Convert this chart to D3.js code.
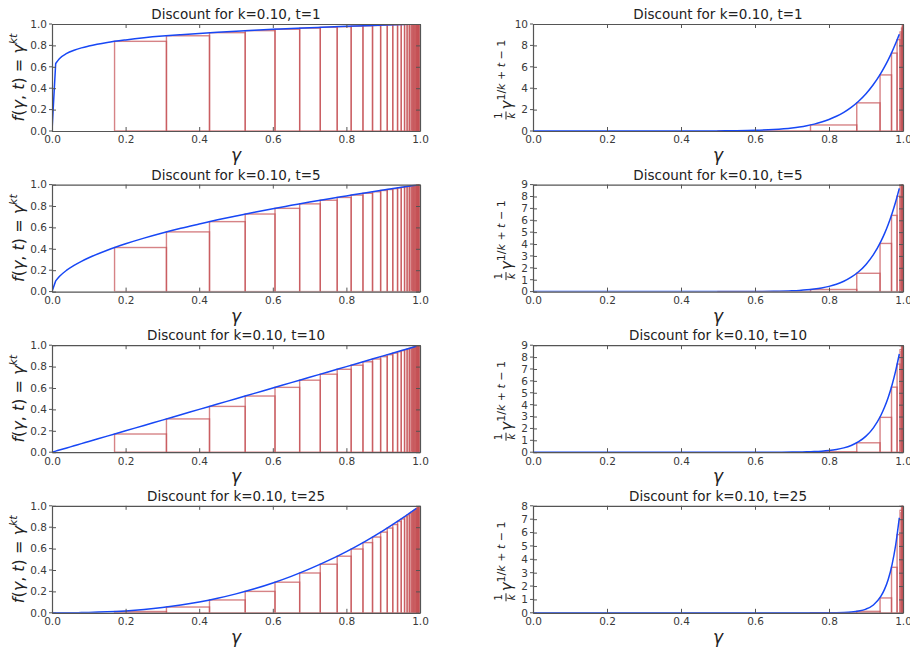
<!DOCTYPE html>
<html>
<head>
<meta charset="utf-8">
<script src="https://cdn.jsdelivr.net/npm/d3@7"></script>
<style>
  body { margin: 0; background: #fff; }
  svg text { font-family: "DejaVu Sans", sans-serif; }
</style>
</head>
<body>
<svg id="chart" width="910" height="647"></svg>
<script>
// horizon values t for each row, k is fixed
const kValue = 0.10;
const tValues = [1, 5, 10, 25];

// left column: left edges of the rectangles
const leftEdges = [0, 0.17, 0.311, 0.428, 0.525, 0.606, 0.673, 0.729, 0.775, 0.813, 0.845, 0.871,
  0.893, 0.911, 0.926, 0.939, 0.949, 0.958, 0.965, 0.971, 0.976, 0.980, 0.983, 0.986, 0.989,
  0.991, 0.992, 0.994, 0.995, 0.996, 0.997, 0.998];
const leftHeightsT1 = [0, 0.838, 0.890, 0.919, 0.938, 0.951, 0.961, 0.969, 0.975, 0.980, 0.983, 0.986,
  0.989, 0.991, 0.992, 0.994, 0.995, 0.996, 0.996, 0.997, 0.998, 0.998, 0.998, 0.999, 0.999,
  0.999, 0.999, 0.999, 1.0, 1.0, 1.0];
const leftHeightsT5 = [0, 0.412, 0.558, 0.654, 0.725, 0.778, 0.820, 0.854, 0.880, 0.902, 0.919, 0.933,
  0.945, 0.954, 0.962, 0.969, 0.974, 0.979, 0.982, 0.985, 0.988, 0.990, 0.991, 0.993, 0.994,
  0.995, 0.996, 0.997, 0.997, 0.998, 0.998];
const leftHeightsT10 = [0, 0.17, 0.311, 0.428, 0.525, 0.606, 0.673, 0.729, 0.775, 0.813, 0.845, 0.871,
  0.893, 0.911, 0.926, 0.939, 0.949, 0.958, 0.965, 0.971, 0.976, 0.980, 0.983, 0.986, 0.989,
  0.991, 0.992, 0.994, 0.995, 0.996, 0.997];
const leftHeightsT25 = [0, 0.012, 0.054, 0.120, 0.200, 0.286, 0.372, 0.454, 0.529, 0.596, 0.656, 0.708,
  0.754, 0.792, 0.825, 0.854, 0.877, 0.898, 0.915, 0.929, 0.941, 0.951, 0.958, 0.965, 0.973,
  0.978, 0.980, 0.985, 0.988, 0.990, 0.993];

// left column: the blue curve
const leftCurveX = [0, 0.01, 0.02, 0.04, 0.06, 0.08, 0.1, 0.15, 0.2, 0.25, 0.3, 0.35, 0.4, 0.45, 0.5,
  0.55, 0.6, 0.65, 0.7, 0.75, 0.8, 0.85, 0.9, 0.95, 0.99];
const leftCurveT1 = [0, 0.631, 0.676, 0.725, 0.755, 0.777, 0.794, 0.827, 0.851, 0.871, 0.887, 0.900,
  0.912, 0.923, 0.933, 0.942, 0.950, 0.958, 0.965, 0.972, 0.978, 0.984, 0.990, 0.995, 0.999];
const leftCurveT5 = [0, 0.1, 0.141, 0.2, 0.245, 0.283, 0.316, 0.387, 0.447, 0.5, 0.548, 0.592, 0.632,
  0.671, 0.707, 0.742, 0.775, 0.806, 0.837, 0.866, 0.894, 0.922, 0.949, 0.975, 0.995];
const leftCurveT10 = [0, 0.01, 0.02, 0.04, 0.06, 0.08, 0.1, 0.15, 0.2, 0.25, 0.3, 0.35, 0.4, 0.45, 0.5,
  0.55, 0.6, 0.65, 0.7, 0.75, 0.8, 0.85, 0.9, 0.95, 0.99];
const leftCurveT25 = [0, 0.00001, 0.00006, 0.0003, 0.0009, 0.0018, 0.0032, 0.0087, 0.0179, 0.0313,
  0.0493, 0.0725, 0.1012, 0.1358, 0.1768, 0.2243, 0.2789, 0.3406, 0.4100, 0.4871, 0.5724, 0.6661,
  0.7684, 0.8797, 0.9752];

// right column: rectangle edges and heights
const rightEdges = [0, 0.5, 0.75, 0.875, 0.938, 0.969, 0.984, 0.992, 0.996, 0.998, 0.999, 1.0];
const rightHeightsT1 = [0, 0.01, 0.563, 2.63, 5.24, 7.28, 8.54, 9.25, 9.62, 9.81, 9.90];
const rightHeightsT5 = [0, 0.001, 0.178, 1.54, 4.05, 6.41, 8.02, 8.96, 9.47, 9.73, 9.86];
const rightHeightsT10 = [0, 0, 0.042, 0.791, 2.93, 5.47, 7.41, 8.62, 9.28, 9.63, 9.81];
const rightHeightsT25 = [0, 0, 0.001, 0.107, 1.11, 3.40, 5.85, 7.66, 8.75, 9.36, 9.67];

// right column: the blue curve
const rightCurveX = [0, 0.3, 0.4, 0.5, 0.55, 0.6, 0.65, 0.7, 0.72, 0.74, 0.76, 0.78, 0.8, 0.82, 0.84,
  0.86, 0.88, 0.9, 0.92, 0.94, 0.95, 0.96, 0.97, 0.98, 0.99];
const rightCurveT1 = [0, 0.0001, 0.001, 0.0098, 0.0253, 0.0605, 0.1346, 0.2825, 0.374, 0.492, 0.643,
  0.834, 1.074, 1.374, 1.749, 2.213, 2.785, 3.487, 4.344, 5.386, 5.987, 6.648, 7.374, 8.171, 9.044];
const rightCurveT5 = [0, 0, 0, 0.0006, 0.0023, 0.0078, 0.024, 0.068, 0.101, 0.148, 0.215, 0.308,
  0.440, 0.622, 0.871, 1.211, 1.670, 2.288, 3.112, 4.205, 4.877, 5.647, 6.529, 7.536, 8.687];
const rightCurveT10 = [0, 0, 0, 0, 0.0001, 0.0006, 0.0028, 0.0114, 0.0195, 0.0328, 0.0544, 0.089,
  0.144, 0.230, 0.364, 0.569, 0.881, 1.351, 2.051, 3.086, 3.774, 4.604, 5.606, 6.813, 8.261];
const rightCurveT25 = [0, 0, 0, 0, 0, 0, 0, 0, 0.0001, 0.0004, 0.0009, 0.0021, 0.0051, 0.0117, 0.0266,
  0.0593, 0.1296, 0.2781, 0.5871, 1.220, 1.748, 2.496, 3.550, 5.032, 7.106];

// right column axis tops and tick steps
const rightYMax = [10, 9, 9, 8];
const rightYStep = [2, 1, 1, 1];

const leftHeights = [leftHeightsT1, leftHeightsT5, leftHeightsT10, leftHeightsT25];
const leftCurves = [leftCurveT1, leftCurveT5, leftCurveT10, leftCurveT25];
const rightHeights = [rightHeightsT1, rightHeightsT5, rightHeightsT10, rightHeightsT25];
const rightCurves = [rightCurveT1, rightCurveT5, rightCurveT10, rightCurveT25];

const svg = d3.select("#chart");

const rowTop = i => 24 + i * 160.6;
const plotH = 107;
const cols = [{ x0: 52, x1: 420 }, { x0: 533, x1: 903 }];

const spineColor = "#555";
const textColor = "#3a3a3a";
const rectColor = "#c44e52";
const lineColor = "#1747f5";

function drawPanel(row, col) {
  const top = rowTop(row);
  const bottom = top + plotH;
  const { x0, x1 } = cols[col];
  const t = tValues[row];

  const x = d3.scaleLinear().domain([0, 1]).range([x0, x1]);
  const yMax = col === 0 ? 1 : rightYMax[row];
  const y = d3.scaleLinear().domain([0, yMax]).range([bottom, top]);

  const g = svg.append("g");
  const clipId = `clip-${row}-${col}`;
  g.append("clipPath").attr("id", clipId)
    .append("rect").attr("x", x0).attr("y", top).attr("width", x1 - x0).attr("height", plotH);

  const plot = g.append("g").attr("clip-path", `url(#${clipId})`);

  // rectangles
  const edges = col === 0 ? leftEdges : rightEdges;
  const heights = col === 0 ? leftHeights[row] : rightHeights[row];
  const rects = heights.map((h, i) => ({ a: edges[i], b: edges[i + 1], h }));
  plot.selectAll("rect.bin")
    .data(rects)
    .enter()
    .append("rect")
    .attr("class", "bin")
    .attr("x", d => x(d.a))
    .attr("width", d => Math.max(0, x(d.b) - x(d.a)))
    .attr("y", d => y(d.h))
    .attr("height", d => bottom - y(d.h))
    .attr("fill", "none")
    .attr("stroke", rectColor)
    .attr("stroke-opacity", 0.7)
    .attr("stroke-width", 1.4);

  // curve: straight first step, smooth afterwards
  const cx = col === 0 ? leftCurveX : rightCurveX;
  const cy = col === 0 ? leftCurves[row] : rightCurves[row];
  const pts = cx.map((v, i) => [v, cy[i]]);
  const smooth = d3.line().x(d => x(d[0])).y(d => y(d[1])).curve(d3.curveMonotoneX)(pts.slice(1));
  plot.append("path")
    .attr("d", `M${x(pts[0][0])},${y(pts[0][1])}L` + smooth.slice(1))
    .attr("fill", "none")
    .attr("stroke", lineColor)
    .attr("stroke-width", 1.5);

  // axes (ticks inward on all sides)
  const xTicks = d3.range(0, 1.0001, 0.2);
  const yTicks = col === 0 ? d3.range(0, 1.0001, 0.2) : d3.range(0, yMax + 0.001, rightYStep[row]);
  const yFmt = col === 0 ? d3.format(".1f") : d3.format("d");

  const bottomAxis = d3.axisBottom(x).tickValues(xTicks).tickFormat(d3.format(".1f")).tickSizeInner(-4).tickSizeOuter(0).tickPadding(5);
  const topAxis = d3.axisTop(x).tickValues(xTicks).tickFormat("").tickSizeInner(-4).tickSizeOuter(0);
  const leftAxis = d3.axisLeft(y).tickValues(yTicks).tickFormat(yFmt).tickSizeInner(-4).tickSizeOuter(0).tickPadding(5);
  const rightAxis = d3.axisRight(y).tickValues(yTicks).tickFormat("").tickSizeInner(-4).tickSizeOuter(0);

  [[bottomAxis, `translate(0,${bottom})`], [topAxis, `translate(0,${top})`],
   [leftAxis, `translate(${x0},0)`], [rightAxis, `translate(${x1},0)`]].forEach(([ax, tr]) => {
    const a = g.append("g").attr("transform", tr).call(ax);
    a.selectAll("path").attr("stroke", spineColor).attr("stroke-width", 1.2);
    a.selectAll("line").attr("stroke", spineColor);
    a.selectAll("text").attr("fill", textColor).attr("font-size", 10.5)
      .attr("font-family", "DejaVu Sans, sans-serif");
  });
  // small outward tick marks like the reference (ticks cross the left spine)
  g.selectAll("line.out").data(yTicks).enter().append("line")
    .attr("x1", x0 - 3).attr("x2", x0).attr("y1", d => y(d)).attr("y2", d => y(d))
    .attr("stroke", spineColor);

  // title
  g.append("text")
    .attr("x", (x0 + x1) / 2)
    .attr("y", top - 5)
    .attr("text-anchor", "middle")
    .attr("font-size", 13.5)
    .attr("fill", "#222")
    .text(`Discount for k=${kValue.toFixed(2)}, t=${t}`);

  // x label
  g.append("text")
    .attr("x", (x0 + x1) / 2)
    .attr("y", bottom + 30)
    .attr("text-anchor", "middle")
    .attr("font-family", "DejaVu Serif, serif")
    .attr("font-style", "italic")
    .attr("font-size", 17)
    .attr("fill", "#222")
    .text("γ");

  // y label
  const yc = (top + bottom) / 2;
  if (col === 0) {
    const lab = g.append("text")
      .attr("transform", `translate(24,${yc}) rotate(-90)`)
      .attr("text-anchor", "middle")
      .attr("font-family", "DejaVu Serif, serif")
      .attr("font-size", 16)
      .attr("fill", "#222");
    lab.append("tspan").attr("font-style", "italic").text("f");
    lab.append("tspan").text("(");
    lab.append("tspan").attr("font-style", "italic").text("γ");
    lab.append("tspan").text(", ");
    lab.append("tspan").attr("font-style", "italic").text("t");
    lab.append("tspan").text(") = ");
    lab.append("tspan").attr("font-style", "italic").text("γ");
    lab.append("tspan").attr("font-style", "italic").attr("font-size", 11).attr("dy", -7).text("kt");
  } else {
    const lg = g.append("g").attr("transform", `translate(512,${yc}) rotate(-90)`)
      .attr("font-family", "DejaVu Serif, serif").attr("fill", "#222");
    // fraction 1/k
    const fx = -38;
    lg.append("text").attr("x", fx).attr("y", -10).attr("text-anchor", "middle").attr("font-size", 10).text("1");
    lg.append("line").attr("x1", fx - 4).attr("x2", fx + 4).attr("y1", -6).attr("y2", -6)
      .attr("stroke", "#222").attr("stroke-width", 1);
    lg.append("text").attr("x", fx).attr("y", 3).attr("text-anchor", "middle")
      .attr("font-size", 10).attr("font-style", "italic").text("k");
    const lab = lg.append("text").attr("x", fx + 6).attr("y", 0).attr("font-size", 15);
    lab.append("tspan").attr("font-style", "italic").text("γ");
    const sup = lab.append("tspan").attr("font-size", 11).attr("dy", -7);
    sup.append("tspan").text("1/");
    sup.append("tspan").attr("font-style", "italic").text("k");
    sup.append("tspan").text(" + ");
    sup.append("tspan").attr("font-style", "italic").text("t");
    sup.append("tspan").text(" − 1");
  }
}

tValues.forEach((t, row) => {
  drawPanel(row, 0);
  drawPanel(row, 1);
});
</script>
</body>
</html>
